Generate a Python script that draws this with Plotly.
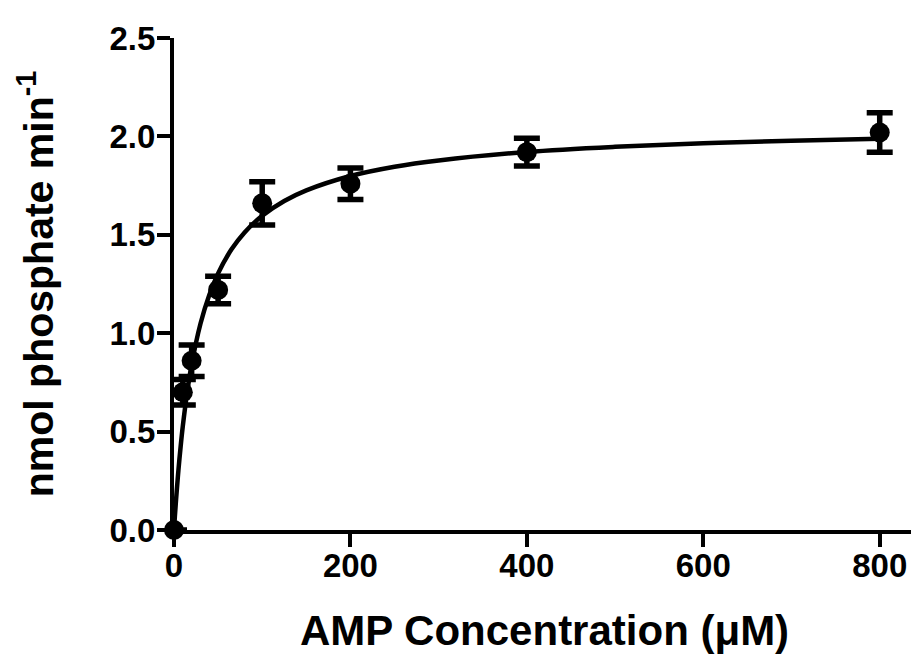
import plotly.graph_objects as go

conc = [0, 10, 20, 50, 100, 200, 400, 800]
rate = [0.0, 0.70, 0.86, 1.22, 1.66, 1.76, 1.92, 2.02]
err = [0.0, 0.065, 0.08, 0.07, 0.11, 0.08, 0.07, 0.10]

# Fitted saturation curve
fit_x = [0, 1, 2, 3, 5, 7.5, 10, 15, 20, 30, 40, 50, 65, 80, 100, 125, 150,
         200, 250, 300, 400, 500, 600, 700, 800]
fit_y = [0.0, 0.069, 0.133, 0.193, 0.303, 0.423, 0.528, 0.702, 0.841, 1.048,
         1.194, 1.304, 1.425, 1.512, 1.597, 1.672, 1.726, 1.799, 1.846, 1.878,
         1.921, 1.947, 1.965, 1.978, 1.988]

x_ticks = [0, 200, 400, 600, 800]
y_ticks = [0.0, 0.5, 1.0, 1.5, 2.0, 2.5]

FONT = "Liberation Sans, Arial, sans-serif"

fig = go.Figure()
fig.add_trace(go.Scatter(
    x=fit_x, y=fit_y, mode="lines", line=dict(color="black", width=4.5, shape="spline"),
    hoverinfo="skip", showlegend=False, cliponaxis=False,
))
fig.add_trace(go.Scatter(
    x=conc, y=rate, mode="markers",
    marker=dict(color="black", size=20, symbol="circle"),
    error_y=dict(type="data", array=err, visible=True, color="black",
                 thickness=5.5, width=13),
    showlegend=False, cliponaxis=False,
))

# page body has an 8px default margin; margins compensate for it
fig.update_layout(
    width=919, height=654,
    margin=dict(l=166, r=12, t=22, b=132),
    paper_bgcolor="white", plot_bgcolor="white",
    font=dict(family=FONT, color="black"),
    xaxis=dict(
        range=[0, 840], tickvals=x_ticks, ticktext=[str(v) for v in x_ticks],
        showgrid=False, zeroline=False, showline=True, linecolor="black", linewidth=4,
        ticks="outside", ticklen=13, tickwidth=4, tickcolor="black",
        ticklabelstandoff=-10,
        tickfont=dict(family=FONT, size=33, weight="bold"),
        title=dict(text="AMP Concentration (μM)", standoff=34,
                   font=dict(family=FONT, size=42, weight="bold")),
    ),
    yaxis=dict(
        range=[0, 2.5], tickvals=y_ticks, ticktext=[f"{v:.1f}" for v in y_ticks],
        showgrid=False, zeroline=False, showline=True, linecolor="black", linewidth=4,
        ticks="outside", ticklen=13, tickwidth=4, tickcolor="black",
        ticklabelstandoff=-5,
        tickfont=dict(family=FONT, size=33, weight="bold"),
        title=dict(text="nmol phosphate min<sup>-1</sup>", standoff=44,
                   font=dict(family=FONT, size=41, weight="bold")),
    ),
)

fig.write_html("out.html")
